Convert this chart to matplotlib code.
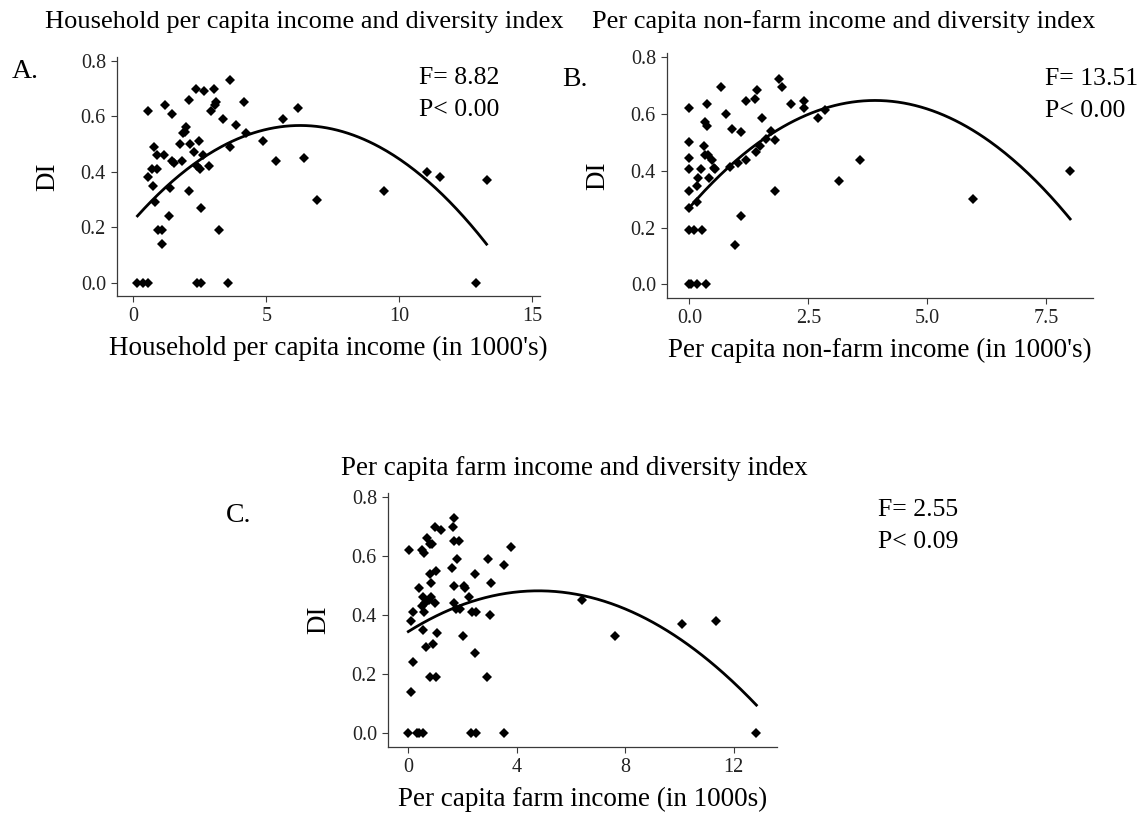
import numpy as np
import matplotlib.pyplot as plt

plt.rcParams['font.family'] = ['Liberation Serif', 'DejaVu Serif']

# panel A: household per capita income vs diversity index
hh_income = [0.15, 0.35, 0.56, 0.54, 0.53, 0.73, 0.76, 0.88, 0.70, 0.88, 0.81, 0.94, 1.07,
             1.07, 1.13, 1.20, 1.32, 1.38, 1.45, 1.44, 1.53, 1.74, 1.82, 1.88, 1.92, 1.98,
             2.07, 2.11, 2.07, 2.26, 2.36, 2.47, 2.38, 2.51, 2.61, 2.66, 2.55, 2.38, 2.55,
             2.83, 3.01, 3.11, 3.07, 2.92, 3.21, 3.36, 3.56, 3.62, 3.62, 3.87, 4.14, 4.22,
             4.87, 5.36, 5.64, 6.20, 6.43, 6.90, 9.41, 11.04, 11.53, 13.28, 12.88]
hh_di = [0.00, 0.00, 0.00, 0.62, 0.38, 0.35, 0.49, 0.46, 0.41, 0.41, 0.29, 0.19, 0.19,
         0.14, 0.46, 0.64, 0.24, 0.34, 0.61, 0.44, 0.43, 0.50, 0.44, 0.54, 0.545, 0.56,
         0.66, 0.50, 0.33, 0.47, 0.70, 0.51, 0.42, 0.41, 0.46, 0.69, 0.27, 0.00, 0.00,
         0.42, 0.70, 0.65, 0.64, 0.62, 0.19, 0.59, 0.00, 0.73, 0.49, 0.57, 0.65, 0.54,
         0.51, 0.44, 0.59, 0.63, 0.45, 0.30, 0.33, 0.40, 0.38, 0.37, 0.00]

# panel B: per capita non-farm income vs diversity index
nf_income = [0.00, 0.00, 0.00, 0.00, 0.00, 0.00, 0.00, 0.10, 0.27, 0.00, 0.04, 0.15, 0.34,
             0.15, 0.17, 0.18, 0.25, 0.31, 0.32, 0.38, 0.36, 0.32, 0.39, 0.41, 0.48, 0.51,
             0.53, 0.67, 0.78, 0.85, 0.90, 1.03, 1.09, 0.95, 1.09, 1.18, 1.20, 1.37, 1.40,
             1.42, 1.48, 1.53, 1.60, 1.72, 1.79, 1.79, 1.88, 1.95, 2.14, 2.40, 2.40, 2.70,
             2.85, 3.14, 3.59, 5.95, 8.00]
nf_di = [0.62, 0.50, 0.445, 0.405, 0.33, 0.27, 0.19, 0.19, 0.19, 0.00, 0.00, 0.00, 0.00,
         0.29, 0.345, 0.375, 0.405, 0.486, 0.57, 0.556, 0.633, 0.456, 0.456, 0.375, 0.437, 0.41,
         0.405, 0.694, 0.60, 0.414, 0.548, 0.428, 0.536, 0.138, 0.239, 0.644, 0.437, 0.653, 0.465,
         0.683, 0.486, 0.587, 0.51, 0.538, 0.507, 0.328, 0.724, 0.694, 0.633, 0.644, 0.62, 0.587,
         0.613, 0.365, 0.436, 0.30, 0.40]

# panel C: per capita farm income vs diversity index
fm_income = [0.04, 0.10, 0.18, 0.09, 0.18, 0.00, 0.32, 0.41, 0.55, 0.39, 0.49, 0.53, 0.53,
             0.49, 0.59, 0.59, 0.63, 0.64, 0.68, 0.79, 0.86, 0.80, 1.03, 0.92, 0.85, 0.84,
             0.75, 0.80, 0.97, 1.01, 1.07, 0.98, 1.21, 1.61, 1.70, 1.65, 1.69, 1.86, 1.78,
             1.70, 1.70, 1.77, 1.91, 2.03, 2.06, 2.09, 2.23, 2.35, 2.51, 2.47, 2.47, 2.30,
             2.51, 2.89, 2.93, 3.03, 3.04, 3.53, 3.54, 3.80, 6.40, 7.61, 10.09, 11.34, 12.84]
fm_di = [0.62, 0.38, 0.41, 0.14, 0.24, 0.00, 0.00, 0.00, 0.00, 0.49, 0.43, 0.35, 0.46,
         0.62, 0.61, 0.41, 0.44, 0.29, 0.66, 0.64, 0.64, 0.19, 0.19, 0.30, 0.51, 0.46,
         0.45, 0.54, 0.44, 0.55, 0.34, 0.70, 0.69, 0.56, 0.73, 0.70, 0.65, 0.65, 0.59,
         0.50, 0.44, 0.42, 0.42, 0.33, 0.50, 0.49, 0.46, 0.41, 0.41, 0.54, 0.27, 0.00,
         0.00, 0.19, 0.59, 0.40, 0.51, 0.57, 0.00, 0.63, 0.45, 0.33, 0.37, 0.38, 0.00]

# quadratic fits (vertex x, vertex y, curvature)
fit_A = (6.27, 0.567, -0.00871)
fit_B = (3.90, 0.647, -0.02480)
fit_C = (4.80, 0.482, -0.00600)

W, H = 1141, 813
fig = plt.figure(figsize=(W / 100, H / 100), dpi=100)

AX_COL = '#3a3a3a'


def panel(box, x, y, fit, xlim, xticks, xticklabels, xlabel, stats, stats_xy):
    l, t, r, b = box
    ax = fig.add_axes([l / W, 1 - b / H, (r - l) / W, (b - t) / H])
    ax.plot(x, y, ls='none', marker='D', ms=4.7, mew=0, color='black', zorder=3)
    x0, y0, c = fit
    xs = np.linspace(min(x), max(x), 200)
    ax.plot(xs, y0 + c * (xs - x0) ** 2, color='black', lw=2.0)
    ax.set_xlim(*xlim)
    ax.set_ylim(-0.048, 0.814)
    ax.set_xticks(xticks)
    ax.set_xticklabels(xticklabels)
    ax.set_yticks([0, 0.2, 0.4, 0.6, 0.8])
    ax.set_yticklabels(['0.0', '0.2', '0.4', '0.6', '0.8'])
    for s in ('top', 'right'):
        ax.spines[s].set_visible(False)
    for s in ('left', 'bottom'):
        ax.spines[s].set_color(AX_COL)
        ax.spines[s].set_linewidth(0.9)
    ax.tick_params(colors=AX_COL, labelcolor='#222222', labelsize=14.5,
                   length=4, width=0.8, pad=4)
    ax.set_ylabel('DI', fontsize=19.5)
    ax.yaxis.set_label_coords(-69 / (r - l), 0.5)
    ax.yaxis.label.set_va('center')
    ax.set_xlabel(xlabel, fontsize=19.5)
    ax.xaxis.set_label_coords(0.5, -52 / (b - t))
    ax.xaxis.label.set_va('center')
    sx, sy = stats_xy
    fig.text(sx / W, 1 - sy / H, stats[0], fontsize=18.5, va='center')
    fig.text(sx / W, 1 - (sy + 32) / H, stats[1], fontsize=18.5, va='center')
    return ax


panel((117, 57, 540, 296), hh_income, hh_di, fit_A, (-0.62, 15.29),
      [0, 5, 10, 15], ['0', '5', '10', '15'],
      "Household per capita income (in 1000's)", ('F= 8.82', 'P< 0.00'), (419, 78))
panel((667, 53, 1093, 298), nf_income, nf_di, fit_B, (-0.47, 8.48),
      [0, 2.5, 5, 7.5], ['0.0', '2.5', '5.0', '7.5'],
      "Per capita non-farm income (in 1000's)", ('F= 13.51', 'P< 0.00'), (1045, 79))
panel((388, 493, 777, 747), fm_income, fm_di, fit_C, (-0.75, 13.6),
      [0, 4, 8, 12], ['0', '4', '8', '12'],
      'Per capita farm income (in 1000s)', ('F= 2.55', 'P< 0.09'), (878, 510))

fig.text(45 / W, 1 - 22 / H, 'Household per capita income and diversity index', fontsize=19, va='center')
fig.text(592 / W, 1 - 22 / H, 'Per capita non-farm income and diversity index', fontsize=19, va='center')
fig.text(341 / W, 1 - 468 / H, 'Per capita farm income and diversity index', fontsize=19.5, va='center')

fig.text(12 / W, 1 - 72 / H, 'A.', fontsize=20, va='center')
fig.text(562 / W, 1 - 80 / H, 'B.', fontsize=20, va='center')
fig.text(226 / W, 1 - 516 / H, 'C.', fontsize=20, va='center')

fig.savefig('out.png', dpi=100)
